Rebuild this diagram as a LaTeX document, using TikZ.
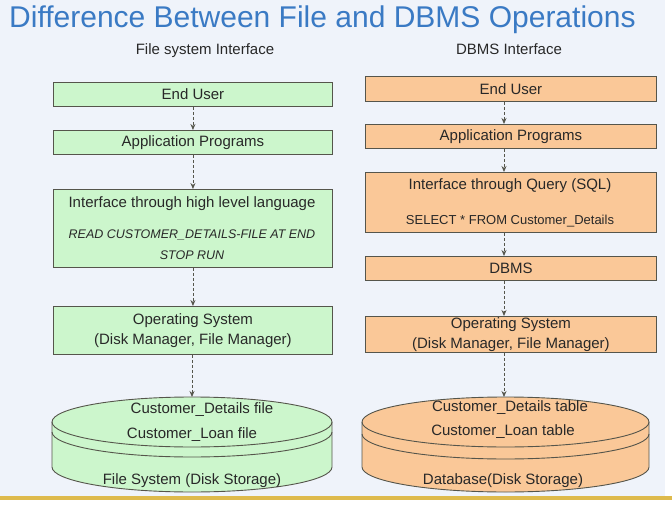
\documentclass[tikz,border=0pt]{standalone}
\usepackage{fontspec}
\setmainfont{Liberation Sans}
\usetikzlibrary{arrows.meta}

\definecolor{titleblue}{RGB}{58,122,196}
\definecolor{bgblue}{RGB}{239,243,250}
\definecolor{filegreen}{RGB}{204,246,204}
\definecolor{dbpeach}{RGB}{250,200,152}
\definecolor{edgegray}{RGB}{85,85,75}
\definecolor{textgray}{RGB}{40,40,40}
\definecolor{goldline}{RGB}{222,186,76}

\begin{document}
\begin{tikzpicture}[x=1pt, y=-1pt,
	box/.style={draw=edgegray, line width=0.9pt, anchor=north west, inner sep=0pt},
	filebox/.style={box, fill=filegreen, minimum width=279pt},
	dbbox/.style={box, fill=dbpeach, minimum width=291pt},
	txt/.style={text=textgray, font=\fontsize{15}{20}\selectfont, inner sep=0pt, align=center},
	code/.style={text=textgray, font=\fontsize{12.5}{21}\selectfont\itshape, inner sep=0pt, align=center},
	flow/.style={draw=edgegray, dash pattern=on 3pt off 2pt, line width=0.8pt, -{Stealth[length=6pt,width=5pt]}}
	]

	% background
	\fill[white] (0,0) rectangle (672,508);
	\fill[bgblue] (0,0) rectangle (665,496);
	\fill[goldline] (0,496) rectangle (672,500);
	\useasboundingbox (0,0) rectangle (672,508);

	% headings
	\node[anchor=base west, inner sep=0pt, text=titleblue, font=\fontsize{30}{34}\selectfont] (title) at (9,28) {Difference Between File and DBMS Operations};
	\node[anchor=base, inner sep=0pt, text=textgray, font=\fontsize{15}{18}\selectfont] (fhead) at (205,55) {File system Interface};
	\node[anchor=base, inner sep=0pt, text=textgray, font=\fontsize{15}{18}\selectfont] (dhead) at (509,55) {DBMS Interface};

	% file system side
	\node[filebox, txt, minimum height=24pt] (fuser) at (53,82) {End User};
	\node[filebox, txt, minimum height=24pt] (fapp) at (53,130) {Application Programs};
	\node[filebox, minimum height=78pt] (fhll) at (53,189) {};
	\node[txt] (fhlltxt) at (192,204) {Interface through high level language};
	\node[code] (fhllcode) at (192,245) {READ CUSTOMER\_DETAILS-FILE AT END\\STOP RUN};
	\node[filebox, txt, minimum height=48pt] (fos) at (53,306) {Operating System\\(Disk Manager, File Manager)};

	% file system storage
	\filldraw[fill=filegreen, draw=edgegray, line width=0.9pt] (52,422) -- (52,467)
	arc[start angle=180, end angle=0, x radius=140, y radius=25] -- (332,422)
	arc[start angle=0, end angle=-180, x radius=140, y radius=25] -- cycle;
	\draw[edgegray, line width=0.9pt] (52,422) arc[start angle=180, end angle=0, x radius=140, y radius=25];
	\draw[edgegray, line width=0.9pt] (52,432) arc[start angle=180, end angle=0, x radius=140, y radius=25];
	\coordinate (fstore) at (192,397);
	\node[txt] (fdet) at (202,410) {Customer\_Details file};
	\node[txt] (floan) at (192,435) {Customer\_Loan file};
	\node[txt] (fdisk) at (192,481) {File System (Disk Storage)};

	% dbms side
	\node[dbbox, txt, minimum height=25pt] (duser) at (365,76) {End User};
	\node[dbbox, txt, minimum height=24pt] (dapp) at (365,124) {Application Programs};
	\node[dbbox, minimum height=60pt] (dsql) at (365,172) {};
	\node[txt] (dsqltxt) at (510,186) {Interface through Query (SQL)};
	\node[txt, font=\fontsize{13}{16}\selectfont] (dsqlcode) at (510,221) {SELECT * FROM Customer\_Details};
	\node[dbbox, txt, minimum height=24pt] (dbms) at (365,256) {DBMS};
	\node[dbbox, txt, minimum height=36pt] (dos) at (365,316) {Operating System\\(Disk Manager, File Manager)};

	% database storage
	\filldraw[fill=dbpeach, draw=edgegray, line width=0.9pt] (362,422) -- (362,467)
	arc[start angle=180, end angle=0, x radius=143.5, y radius=25] -- (649,422)
	arc[start angle=0, end angle=-180, x radius=143.5, y radius=25] -- cycle;
	\draw[edgegray, line width=0.9pt] (362,422) arc[start angle=180, end angle=0, x radius=143.5, y radius=25];
	\draw[edgegray, line width=0.9pt] (362,434) arc[start angle=180, end angle=0, x radius=143.5, y radius=25];
	\coordinate (dstore) at (504,397);
	\node[txt] (ddet) at (510,408) {Customer\_Details table};
	\node[txt] (dloan) at (503,432) {Customer\_Loan table};
	\node[txt] (ddisk) at (503,481) {Database(Disk Storage)};

	% flow arrows
	\draw[flow] (fuser) -- (fapp);
	\draw[flow] (fapp.south) -- (fhll.north -| fapp.south);
	\draw[flow] (fhll.south -| fapp.south) -- (fos.north -| fapp.south);
	\draw[flow] (fos.south -| fstore) -- (fstore);

	\draw[flow] (duser.south -| dstore) -- (dapp.north -| dstore);
	\draw[flow] (dapp.south -| dstore) -- (dsql.north -| dstore);
	\draw[flow] (dsql.south -| dstore) -- (dbms.north -| dstore);
	\draw[flow] (dbms.south -| dstore) -- (dos.north -| dstore);
	\draw[flow] (dos.south -| dstore) -- (dstore);

\end{tikzpicture}
\end{document}
